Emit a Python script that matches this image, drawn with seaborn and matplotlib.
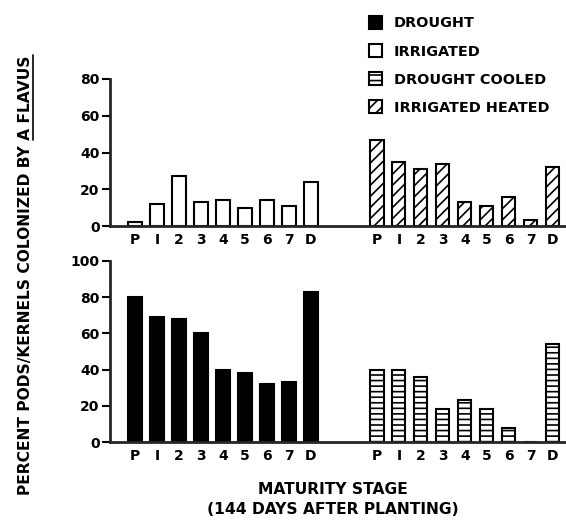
import matplotlib
matplotlib.use("Agg")
import matplotlib.pyplot as plt
from matplotlib.patches import Patch
from matplotlib.lines import Line2D
import pandas as pd
import seaborn as sns

sns.set_style("ticks")
plt.rcParams["font.family"] = ["DejaVu Sans"]
plt.rcParams["font.weight"] = "bold"
plt.rcParams["text.color"] = "black"
plt.rcParams["xtick.color"] = "black"
plt.rcParams["ytick.color"] = "black"
plt.rcParams["hatch.linewidth"] = 1.2
plt.rcParams["hatch.color"] = "black"

# ---- Data ----
STAGES = ["P", "I", "2", "3", "4", "5", "6", "7", "D"]
LEFT_POS = [0, 1, 2, 3, 4, 5, 6, 7, 8]
RIGHT_POS = [11, 12, 13, 14, 15, 16, 17, 18, 19]

irrigated = [2, 12, 27, 13, 14, 10, 14, 11, 24]
irrigated_heated = [47, 35, 31, 34, 13, 11, 16, 3, 32]
drought = [80, 69, 68, 60, 40, 38, 32, 33, 83]
drought_cooled = [40, 40, 36, 18, 23, 18, 8, 0, 54]

STYLE = {
    "DROUGHT": dict(facecolor="black", hatch=None),
    "IRRIGATED": dict(facecolor="white", hatch=None),
    "DROUGHT COOLED": dict(facecolor="white", hatch="---"),
    "IRRIGATED HEATED": dict(facecolor="white", hatch="///"),
}

W, H = 566, 520
fig = plt.figure(figsize=(W / 100, H / 100), dpi=100)

left = 110 / W
ax_top = fig.add_axes([left, 1 - 226 / H, 1 - left, (226 - 79) / H])
ax_bot = fig.add_axes([left, 1 - 442 / H, 1 - left, (442 - 261) / H])


def draw_group(ax, pos, vals, name):
    st = STYLE[name]
    df = pd.DataFrame({"pos": pos, "val": vals})
    sns.barplot(data=df, x="pos", y="val", native_scale=True, width=0.6,
                color=st["facecolor"], saturation=1, edgecolor="black",
                linewidth=1.5, hatch=st["hatch"], errorbar=None, ax=ax)


draw_group(ax_top, LEFT_POS, irrigated, "IRRIGATED")
draw_group(ax_top, RIGHT_POS, irrigated_heated, "IRRIGATED HEATED")
draw_group(ax_bot, LEFT_POS, drought, "DROUGHT")
draw_group(ax_bot, RIGHT_POS, drought_cooled, "DROUGHT COOLED")

for ax, ymax in [(ax_top, 80), (ax_bot, 100)]:
    ax.set_xlim(-1.14, 19.6)
    ax.set_ylim(0, ymax)
    ax.set_yticks(range(0, ymax + 1, 20))
    ax.set_xticks(LEFT_POS + RIGHT_POS)
    ax.set_xticklabels(STAGES + STAGES)
    ax.set_xlabel("")
    ax.set_ylabel("")
    sns.despine(ax=ax)
    for s in ("left", "bottom"):
        ax.spines[s].set_linewidth(2)
    ax.tick_params(axis="y", length=6, width=1.5, pad=1.5, labelsize=10)
    ax.tick_params(axis="x", length=0, pad=5, labelsize=10)
    ax.set_facecolor("white")

# axis titles
fig.text(333 / W, 1 - 490 / H, "MATURITY STAGE", ha="center", va="center", fontsize=11.2)
fig.text(333 / W, 1 - 509 / H, "(144 DAYS AFTER PLANTING)", ha="center", va="center",
         fontsize=11.2)
ylab = fig.text(26 / W, 1 - 275 / H, "PERCENT PODS/KERNELS COLONIZED BY A FLAVUS",
                rotation=90, ha="center", va="center", fontsize=11.2)

# underline the species name
fig.canvas.draw()
r = fig.canvas.get_renderer()
bb = ylab.get_window_extent(r)
tmp = fig.text(0, 0, "A FLAVUS", fontsize=11.2)
wf = tmp.get_window_extent(r).width
tmp.remove()
fig.add_artist(Line2D([bb.x1 - 1, bb.x1 - 1], [bb.y1 - wf, bb.y1],
                      transform=None, color="black", lw=1.2))

# legend
handles = [Patch(facecolor=STYLE[k]["facecolor"], edgecolor="black", linewidth=1.5,
                 hatch=STYLE[k]["hatch"], label=k) for k in STYLE]
fig.legend(handles=handles, loc="upper left", bbox_to_anchor=(369 / W, 1 - 16 / H),
           frameon=False, fontsize=10.4, handlelength=0.9, handleheight=1.0,
           handletextpad=0.8, labelspacing=0.95, borderpad=0, borderaxespad=0)

fig.savefig("out.png", dpi=100, facecolor="white")
